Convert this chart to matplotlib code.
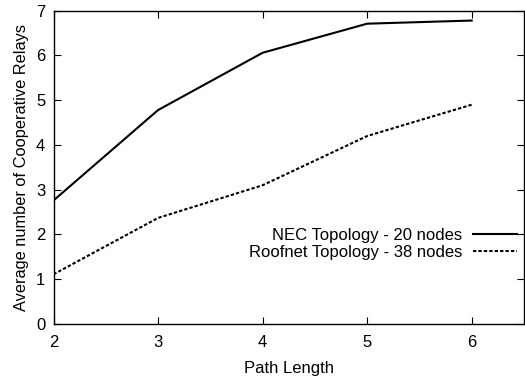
import matplotlib
matplotlib.use('Agg')
from matplotlib import pyplot as plt

plt.rcParams['font.family'] = ['Liberation Sans', 'DejaVu Sans']
plt.rcParams['font.size'] = 12

path_length = [2, 3, 4, 5, 6]
nec = [2.76, 4.78, 6.06, 6.71, 6.78]
roofnet = [1.11, 2.37, 3.10, 4.20, 4.90]

fig = plt.figure(figsize=(5.25, 3.79), dpi=100)
ax = fig.add_axes([53.5 / 525, 1 - 324 / 379, (524 - 53.5) / 525, (324 - 10.7) / 379])

ax.plot(path_length, nec, color='black', lw=1.5, label='NEC Topology - 20 nodes')
ax.plot(path_length, roofnet, color='black', lw=1.5, dashes=(1.6, 1.0),
        label='Roofnet Topology - 38 nodes')

ax.set_xlim(2, 6.5)
ax.set_ylim(0, 7)
ax.set_xticks([2, 3, 4, 5, 6])
ax.set_yticks(range(8))
ax.tick_params(direction='in', top=True, right=True, length=5, width=0.8,
               labelsize=12)
ax.tick_params(axis='x', pad=8)
ax.tick_params(axis='y', pad=6)
for s in ax.spines.values():
    s.set_linewidth(1.0)

ax.set_xlabel('Path Length', fontsize=12, labelpad=8)
ax.set_ylabel('Average number of Cooperative Relays', fontsize=11.8, labelpad=5)

ax.legend(loc='center right', bbox_to_anchor=(0.986, 0.255), frameon=False,
          markerfirst=False, handlelength=2.65, handletextpad=0.65,
          labelspacing=0.12, borderaxespad=0, borderpad=0, fontsize=12)

plt.savefig('out.png', dpi=100)
